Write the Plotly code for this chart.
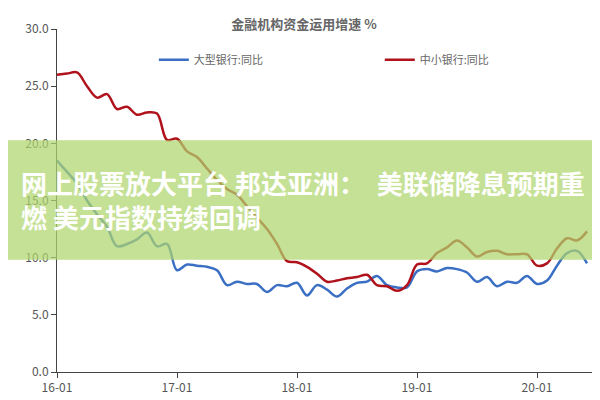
import plotly.graph_objects as go

months = list(range(54))
tick_vals = [0, 12, 24, 36, 48]
tick_text = ["16-01", "17-01", "18-01", "19-01", "20-01"]
y_ticks = [0, 5, 10, 15, 20, 25, 30]
y_tick_text = ["0.0", "5.0", "10.0", "15.0", "20.0", "25.0", "30.0"]

large = [18.5, 17.5, 16.5, 15.0, 13.8, 12.7, 11.0, 11.2, 11.6, 12.2, 11.0, 11.2,
         8.9, 9.4, 9.3, 9.2, 8.9, 7.6, 7.9, 7.7, 7.7, 7.0, 7.6, 7.5,
         7.8, 6.7, 7.6, 7.2, 6.6, 7.3, 7.8, 7.9, 8.4, 7.6, 7.4, 7.4,
         8.8, 9.0, 8.8, 9.1, 9.0, 8.7, 7.9, 8.3, 7.5, 7.9, 7.8, 8.4,
         7.7, 8.0, 9.3, 10.4, 10.6, 9.5]
small = [26.0, 26.1, 26.2, 25.0, 24.0, 24.3, 23.0, 23.2, 22.5, 22.7, 22.6, 20.3,
         20.4, 19.3, 18.8, 17.8, 16.8, 16.0, 15.5, 14.5, 13.5, 12.5, 11.2, 9.7,
         9.6, 9.2, 8.6, 7.9, 8.0, 8.2, 8.3, 8.5, 7.6, 7.5, 7.1, 7.6,
         9.4, 9.5, 10.4, 10.9, 11.5, 10.9, 10.1, 10.5, 10.6, 10.3, 10.3, 10.3,
         9.3, 9.5, 10.8, 11.7, 11.5, 12.3]

font = "Noto Sans CJK SC"
fig = go.Figure()
fig.add_trace(go.Scatter(x=months, y=large, mode="lines", name="大型银行:同比",
                         line=dict(color="#3a6fc4", width=2.5, shape="spline")))
fig.add_trace(go.Scatter(x=months, y=small, mode="lines", name="中小银行:同比",
                         line=dict(color="#b0121b", width=2.5, shape="spline")))
fig.update_layout(
    width=592, height=392, paper_bgcolor="white", plot_bgcolor="white",
    margin=dict(l=49, r=5, t=21, b=28, autoexpand=False),
    font=dict(family=font, color="#555", size=12),
    title=dict(text="<b>金融机构资金运用增速 %</b>", x=0.5, y=0.97, xanchor="center",
               font=dict(size=13, color="#666")),
    showlegend=True,
    legend=dict(orientation="h", x=0.18, xanchor="left", y=0.91, yanchor="middle",
                bgcolor="rgba(0,0,0,0)", entrywidthmode="fraction", entrywidth=0.42,
                font=dict(size=11, color="#666")),
    xaxis=dict(range=[0, 53.8], tickvals=tick_vals, ticktext=tick_text, showgrid=False,
               showline=True, linecolor="#444", ticks="outside", ticklen=5, tickcolor="#444",
               zeroline=False),
    yaxis=dict(range=[0, 30], tickvals=y_ticks, ticktext=y_tick_text, showgrid=False,
               showline=True, linecolor="#444", ticks="outside", ticklen=5, tickcolor="#444",
               zeroline=False),
)
fig.add_shape(type="rect", xref="paper", yref="paper", x0=-0.12, x1=1.03, y0=0.327, y1=0.676,
              fillcolor="rgba(175,214,110,0.72)", line=dict(width=0), layer="above")
fig.add_annotation(xref="paper", yref="paper", x=-0.07, y=0.504, xanchor="left", yanchor="middle",
                   showarrow=False, align="left",
                   text="<b>网上股票放大平台 邦达亚洲：  美联储降息预期重<br>燃 美元指数持续回调</b>",
                   font=dict(family=font, size=26, color="white"))
fig.write_html("out.html")
